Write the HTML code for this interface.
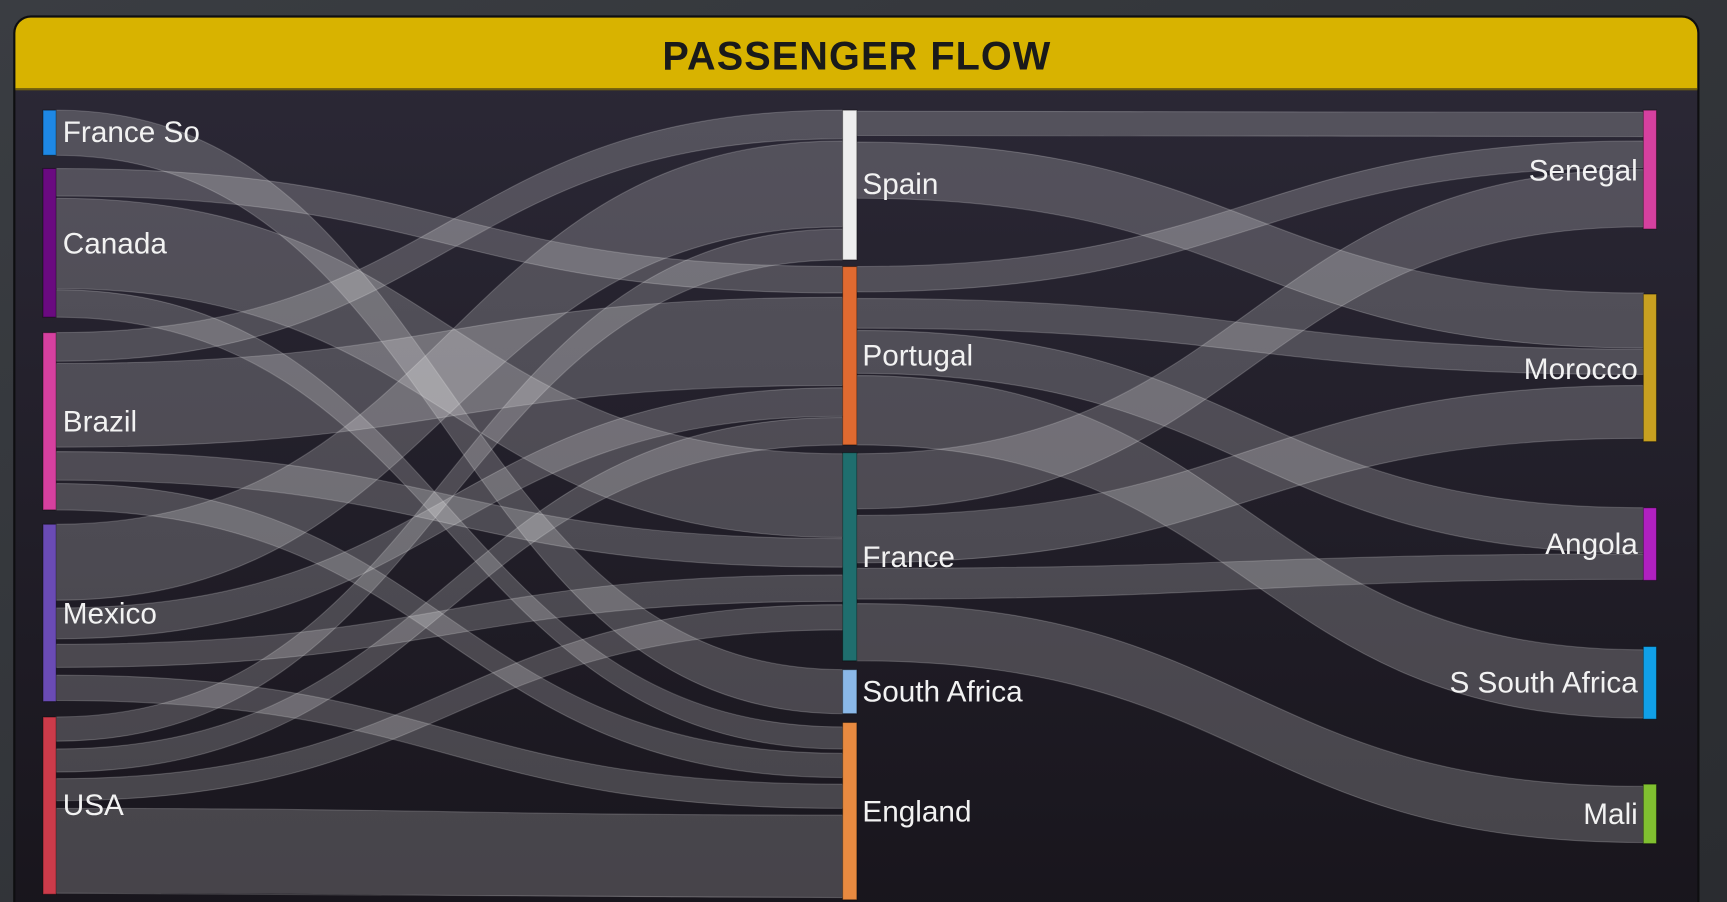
<!DOCTYPE html>
<html><head><meta charset="utf-8"><style>
html,body{margin:0;padding:0;background:#33363a;overflow:hidden}
svg{display:block}
text{font-family:"Liberation Sans",sans-serif;fill:#f2f2f2}
</style></head><body>
<svg width="1727" height="902" viewBox="0 0 1568 819" preserveAspectRatio="none">
<defs>
<linearGradient id="bg" x1="0" y1="0" x2="0" y2="1"><stop offset="0" stop-color="#2c2937"/><stop offset="1" stop-color="#18151c"/></linearGradient>
<linearGradient id="outer" x1="0" y1="0" x2="1" y2="1"><stop offset="0" stop-color="#3a3d42"/><stop offset="1" stop-color="#2a2c30"/></linearGradient>
</defs>
<rect width="1568" height="819" fill="url(#outer)"/>
<rect x="12" y="14" width="1531" height="830" rx="16" fill="#0e0e10"/>
<rect x="14" y="16" width="1527" height="826" rx="14" fill="url(#bg)"/>
<path d="M14 81 V30 a14 14 0 0 1 14 -14 H1527 a14 14 0 0 1 14 14 V81 Z" fill="#d8b300"/>
<rect x="14" y="80" width="1527" height="2" fill="#6e5d10"/>
<text x="778" y="63" text-anchor="middle" style="font-size:36px;font-weight:bold;fill:#1a1a1a;letter-spacing:1px">PASSENGER FLOW</text>
<g fill="rgba(255,255,255,0.2)" stroke="rgba(255,255,255,0.18)" stroke-width="1">
<path d="M51 100 C408 100 408 608 765 608 L765 648 C408 648 408 141 51 141 Z"/>
<path d="M51 153 C408 153 408 242 765 242 L765 266 C408 266 408 178 51 178 Z"/>
<path d="M51 180 C408 180 408 412 765 412 L765 488 C408 488 408 262 51 262 Z"/>
<path d="M51 263 C408 263 408 660 765 660 L765 680 C408 680 408 288 51 288 Z"/>
<path d="M51 302 C408 302 408 100 765 100 L765 126 C408 126 408 328 51 328 Z"/>
<path d="M51 330 C408 330 408 270 765 270 L765 350 C408 350 408 406 51 406 Z"/>
<path d="M51 410 C408 410 408 489 765 489 L765 515 C408 515 408 436 51 436 Z"/>
<path d="M51 439 C408 439 408 684 765 684 L765 706 C408 706 408 463 51 463 Z"/>
<path d="M51 476 C408 476 408 128 765 128 L765 206 C408 206 408 545 51 545 Z"/>
<path d="M51 552 C408 552 408 352 765 352 L765 378 C408 378 408 580 51 580 Z"/>
<path d="M51 585 C408 585 408 522 765 522 L765 546 C408 546 408 606 51 606 Z"/>
<path d="M51 613 C408 613 408 712 765 712 L765 734 C408 734 408 636 51 636 Z"/>
<path d="M51 651 C408 651 408 208 765 208 L765 236 C408 236 408 673 51 673 Z"/>
<path d="M51 680 C408 680 408 379 765 379 L765 404 C408 404 408 701 51 701 Z"/>
<path d="M51 707 C408 707 408 549 765 549 L765 572 C408 572 408 727 51 727 Z"/>
<path d="M51 734 C408 734 408 740 765 740 L765 815 C408 815 408 811 51 811 Z"/>
<path d="M778 101 C1135 101 1135 102 1492 102 L1492 124 C1135 124 1135 123 778 123 Z"/>
<path d="M778 129 C1135 129 1135 266 1492 266 L1492 316 C1135 316 1135 180 778 180 Z"/>
<path d="M778 242 C1135 242 1135 128 1492 128 L1492 152 C1135 152 1135 265 778 265 Z"/>
<path d="M778 271 C1135 271 1135 317 1492 317 L1492 340 C1135 340 1135 298 778 298 Z"/>
<path d="M778 300 C1135 300 1135 461 1492 461 L1492 502 C1135 502 1135 339 778 339 Z"/>
<path d="M778 341 C1135 341 1135 590 1492 590 L1492 652 C1135 652 1135 404 778 404 Z"/>
<path d="M778 412 C1135 412 1135 154 1492 154 L1492 206 C1135 206 1135 462 778 462 Z"/>
<path d="M778 468 C1135 468 1135 350 1492 350 L1492 398 C1135 398 1135 511 778 511 Z"/>
<path d="M778 516 C1135 516 1135 503 1492 503 L1492 526 C1135 526 1135 544 778 544 Z"/>
<path d="M778 548 C1135 548 1135 714 1492 714 L1492 765 C1135 765 1135 600 778 600 Z"/>
</g>
<g stroke="rgba(0,0,0,0.4)" stroke-width="1">
<rect x="39" y="100" width="12" height="41" fill="#1e88e5"/>
<rect x="39" y="153" width="12" height="135" fill="#6a0a80"/>
<rect x="39" y="302" width="12" height="161" fill="#d6409f"/>
<rect x="39" y="476" width="12" height="161" fill="#6a4bb5"/>
<rect x="39" y="651" width="12" height="161" fill="#cc3b4a"/>
<rect x="765" y="100" width="13" height="136" fill="#eeeeee"/>
<rect x="765" y="242" width="13" height="162" fill="#e06a30"/>
<rect x="765" y="411" width="13" height="189" fill="#1f6e6e"/>
<rect x="765" y="608" width="13" height="40" fill="#8ab8e8"/>
<rect x="765" y="656" width="13" height="161" fill="#e88a40"/>
<rect x="1492" y="100" width="12" height="108" fill="#d6409f"/>
<rect x="1492" y="267" width="12" height="134" fill="#c8a020"/>
<rect x="1492" y="461" width="12" height="66" fill="#b020c0"/>
<rect x="1492" y="587" width="12" height="66" fill="#10a0e8"/>
<rect x="1492" y="712" width="12" height="54" fill="#80c030"/>
</g>
<g style="font-size:27px">
<text x="57" y="129">France So</text>
<text x="57" y="230">Canada</text>
<text x="57" y="392">Brazil</text>
<text x="57" y="566">Mexico</text>
<text x="57" y="740">USA</text>
<text x="783" y="176">Spain</text>
<text x="783" y="332">Portugal</text>
<text x="783" y="515">France</text>
<text x="783" y="637">South Africa</text>
<text x="783" y="746">England</text>
<g text-anchor="end">
<text x="1487" y="164">Senegal</text>
<text x="1487" y="344">Morocco</text>
<text x="1487" y="503">Angola</text>
<text x="1487" y="629">S South Africa</text>
<text x="1487" y="748">Mali</text>
</g>
</g>
</svg>
</body></html>
